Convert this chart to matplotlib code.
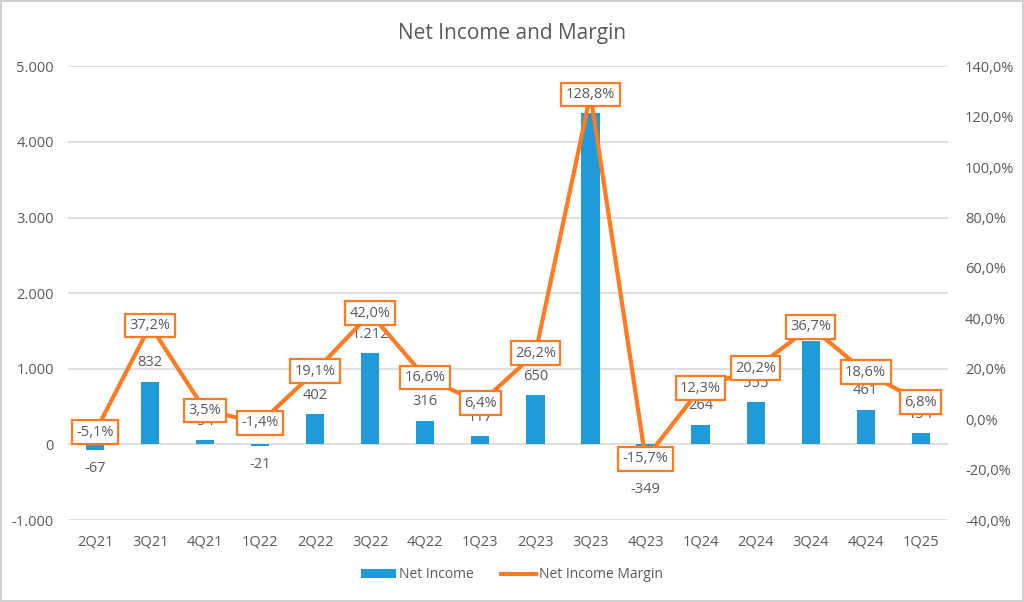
import matplotlib
matplotlib.use("Agg")
import matplotlib.pyplot as plt
from matplotlib.ticker import FuncFormatter, MultipleLocator
import numpy as np

plt.rcParams["font.family"] = ["Open Sans", "DejaVu Sans"]

# ---------------------------------------------------------------------------
# Data
# ---------------------------------------------------------------------------
quarters = ["2Q21", "3Q21", "4Q21", "1Q22", "2Q22", "3Q22", "4Q22", "1Q23",
            "2Q23", "3Q23", "4Q23", "1Q24", "2Q24", "3Q24", "4Q24", "1Q25"]
net_income = [-67, 832, 54, -21, 402, 1212, 316, 117,
              650, 4380, -349, 264, 555, 1362, 461, 154]
margin = [-5.1, 37.2, 3.5, -1.4, 19.1, 42.0, 16.6, 6.4,
          26.2, 128.8, -15.7, 12.3, 20.2, 36.7, 18.6, 6.8]

BLUE = "#1F9BDA"
ORANGE = "#FF7A21"
GREY = "#595959"
GRID = "#D9D9D9"

fig = plt.figure(figsize=(10.24, 6.02), dpi=100)
fig.patch.set_edgecolor("#D0D0D0")
fig.patch.set_linewidth(1.5)

ax = fig.add_axes([0.066, 0.136, 0.860, 0.754])
ax2 = ax.twinx()

x = np.arange(len(quarters))

# bars (their labels sit under the margin boxes, as in the original)
ax.bar(x, net_income, width=0.33, color=BLUE, label="Net Income", zorder=2)
for xi, v in zip(x, net_income):
    off = 8 if v >= 0 else -8
    ax.annotate(f"{v:,}".replace(",", "."), (xi, v), xytext=(0, off),
                textcoords="offset points", ha="center",
                va="bottom" if v >= 0 else "top", fontsize=10.5, color=GREY)

ax.set_ylim(-1000, 5000)
ax.yaxis.set_major_locator(MultipleLocator(1000))
ax.yaxis.set_major_formatter(FuncFormatter(lambda v, p: f"{v:,.0f}".replace(",", ".")))
ax.set_xlim(-0.5, len(quarters) - 0.5)
ax.set_xticks(x)
ax.set_xticklabels(quarters)
ax.grid(axis="y", color=GRID, linewidth=1.2, zorder=0)
ax.set_axisbelow(True)

# margin line on the secondary axis
m = np.array(margin) / 100
ax2.plot(x, m, color=ORANGE, linewidth=3, label="Net Income Margin", zorder=3)
for xi, v in zip(x, margin):
    ax2.text(xi, v / 100, f"{v:.1f}%".replace(".", ","), ha="center", va="center",
             fontsize=10.5, color=GREY, zorder=4,
             bbox=dict(boxstyle="square,pad=0.3", facecolor="white",
                       edgecolor=ORANGE, linewidth=1.6))
ax2.set_ylim(-0.4, 1.4)
ax2.yaxis.set_major_locator(MultipleLocator(0.2))
ax2.yaxis.set_major_formatter(FuncFormatter(lambda v, p: f"{v*100:.1f}%".replace(".", ",")))

for a in (ax, ax2):
    for s in a.spines.values():
        s.set_visible(False)
    a.tick_params(length=0, colors=GREY, labelsize=10.5)
ax.tick_params(axis="y", pad=10)
ax.tick_params(axis="x", pad=10)
ax2.tick_params(axis="y", pad=12)

fig.suptitle("Net Income and Margin", y=0.962, fontsize=15, color=GREY)

h1, l1 = ax.get_legend_handles_labels()
h2, l2 = ax2.get_legend_handles_labels()
fig.legend(h1 + h2, l1 + l2, loc="center", bbox_to_anchor=(0.5, 0.045), ncol=2,
           frameon=False, fontsize=10, labelcolor=GREY, handlelength=2.5,
           handletextpad=0.2, columnspacing=2.0)

fig.savefig("out.png", dpi=100)
